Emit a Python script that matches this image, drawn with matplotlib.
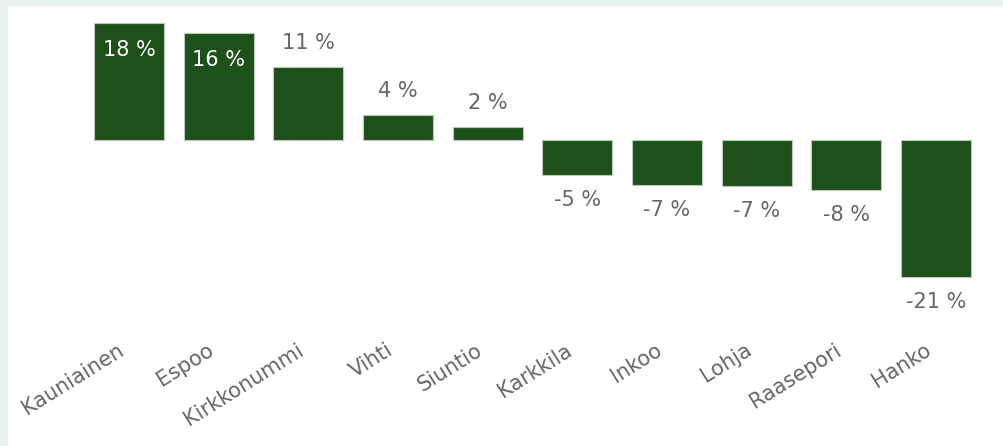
import matplotlib.pyplot as plt
from matplotlib.patches import Rectangle
from matplotlib.transforms import ScaledTranslation

# Population change by municipality (%)
municipalities = ["Kauniainen", "Espoo", "Kirkkonummi", "Vihti", "Siuntio",
                  "Karkkila", "Inkoo", "Lohja", "Raasepori", "Hanko"]
change = [18.0, 16.4, 11.2, 3.8, 2.0, -5.4, -6.9, -7.1, -7.7, -21.1]
labels = ["18 %", "16 %", "11 %", "4 %", "2 %", "-5 %", "-7 %", "-7 %", "-8 %", "-21 %"]
inside = [True, True, False, False, False, False, False, False, False, False]

bar_color = "#1e5119"
text_gray = "#666666"

fig = plt.figure(figsize=(10.04, 4.46), dpi=100)
fig.patch.set_facecolor("white")
# light frame on top and left
fig.patches.append(Rectangle((0, 0), 7 / 1004, 1, transform=fig.transFigure,
                             color="#e8f3ef", zorder=0))
fig.patches.append(Rectangle((0, 1 - 5 / 446), 1, 5 / 446, transform=fig.transFigure,
                             color="#e8f3ef", zorder=0))

# axes placed so that zero line sits at y=140 px, 6.5 px per %
left, right = 84.2 / 1004, 980.8 / 1004
top_px, bot_px = 140 - 18.5 * 6.5, 140 + 22 * 6.5
ax = fig.add_axes([left, 1 - bot_px / 446, right - left, (bot_px - top_px) / 446])
ax.set_xlim(-0.5, len(municipalities) - 0.5)
ax.set_ylim(-22, 18.5)

x = range(len(municipalities))
ax.bar(x, change, width=0.78, color=bar_color, edgecolor="#b9c8b9", linewidth=0.8)

for i, v in enumerate(change):
    if inside[i]:
        ax.annotate(labels[i], (i, v), xytext=(0, -12), textcoords="offset points",
                    ha="center", va="top", fontsize=15, color="white")
    elif v >= 0:
        ax.annotate(labels[i], (i, v), xytext=(0, 10), textcoords="offset points",
                    ha="center", va="bottom", fontsize=15, color=text_gray)
    else:
        ax.annotate(labels[i], (i, v), xytext=(0, -11), textcoords="offset points",
                    ha="center", va="top", fontsize=15, color=text_gray)

ax.set_xticks(list(x))
ax.set_xticklabels(municipalities, rotation=32, ha="right", rotation_mode="anchor",
                   fontsize=15, color=text_gray)
ax.tick_params(axis="x", length=0, pad=41)
shift = ScaledTranslation(-12 / 100, 0, fig.dpi_scale_trans)
for t in ax.get_xticklabels():
    t.set_transform(t.get_transform() + shift)
ax.set_yticks([])
for s in ax.spines.values():
    s.set_visible(False)
ax.patch.set_alpha(0)

fig.savefig("out.png", dpi=100)
